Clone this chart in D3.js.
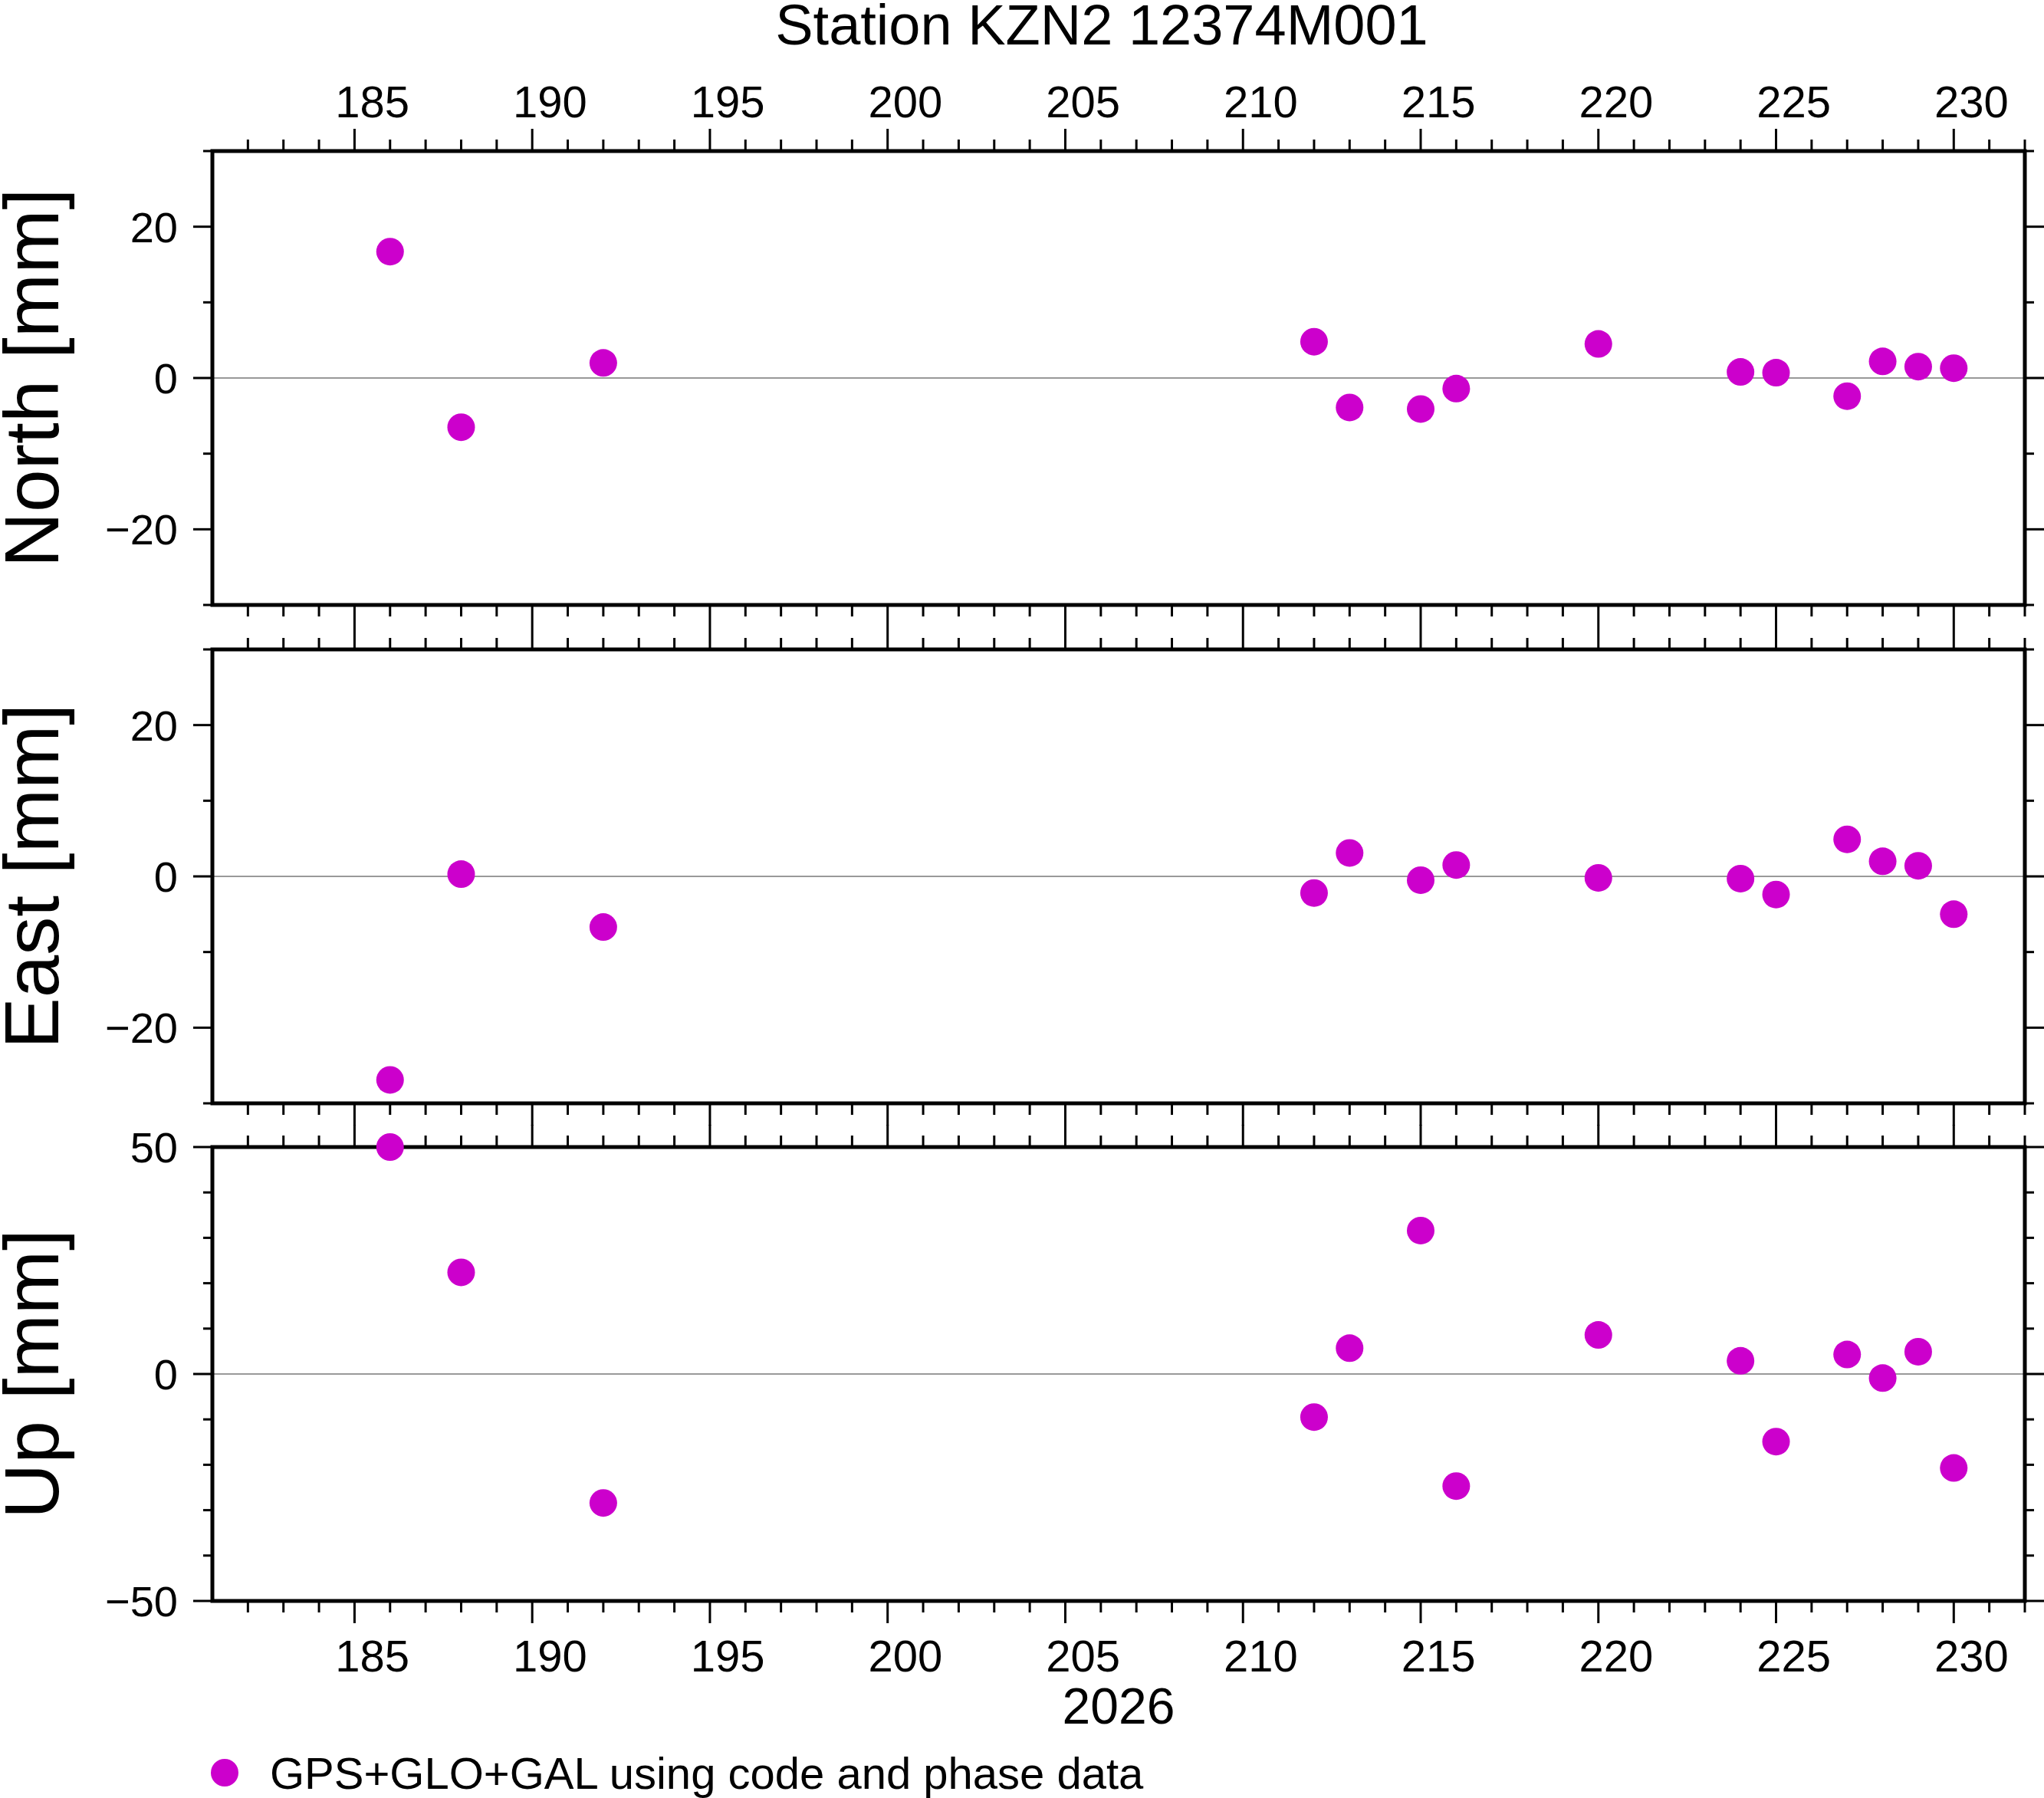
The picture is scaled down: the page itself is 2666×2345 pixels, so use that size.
<!DOCTYPE html>
<html><head><meta charset="utf-8">
<script src="https://cdn.jsdelivr.net/npm/d3@7"></script>
<style>body{margin:0;background:#fff}svg{display:block;font-family:"Liberation Sans",Arial,sans-serif}</style>
</head><body>
<script>
const days = [186,188,192,212,213,215,216,220,224,225,227,228,229,230];
const north = [16.7,-6.5,2.0,4.8,-3.9,-4.1,-1.4,4.5,0.8,0.7,-2.4,2.2,1.5,1.3];
const east = [-26.9,0.3,-6.7,-2.2,3.1,-0.5,1.5,-0.2,-0.3,-2.4,4.9,2.0,1.4,-5.0];
const up = [50,22.4,-28.4,-9.5,5.7,31.6,-24.7,8.6,2.9,-14.9,4.3,-0.9,4.9,-20.7];
const xTicks = [185,190,195,200,205,210,215,220,225,230];
const panels = [
  {label:"North [mm]", vals:north, dom:[-30,30], major:[-20,0,20], minor:10},
  {label:"East [mm]", vals:east, dom:[-30,30], major:[-20,0,20], minor:10},
  {label:"Up [mm]", vals:up, dom:[-50,50], major:[-50,0,50], minor:10}
];
const W=2666,H=2345,L=277,R=2641;
const tops=[197,847,1496], ph=592;
const svg=d3.select("body").append("svg").attr("width",W).attr("height",H);
const x=d3.scaleLinear().domain([181,232]).range([L,R]);
const minorX=d3.range(182,233,1);
const col="#cc00cc";
svg.append("text").attr("x",1437).attr("y",58).attr("text-anchor","middle").attr("font-size",74).text("Station KZN2 12374M001");
panels.forEach((p,i)=>{
  const t=tops[i], b=t+ph;
  const y=d3.scaleLinear().domain(p.dom).range([b,t]);
  const g=svg.append("g");
  [[t,-1],[b,1]].forEach(([yy,dir])=>{
    minorX.forEach(d=>{const maj=d%5===0;g.append("line").attr("x1",x(d)).attr("x2",x(d)).attr("y1",yy).attr("y2",yy+dir*(maj?29:15)).attr("stroke","#000").attr("stroke-width",3);});
  });
  const minorY=d3.range(p.dom[0],p.dom[1]+0.001,p.minor);
  [[L,-1],[R,1]].forEach(([xx,dir])=>{
    minorY.forEach(v=>{const maj=p.major.includes(v);g.append("line").attr("x1",xx).attr("x2",xx+dir*(maj?25:12)).attr("y1",y(v)).attr("y2",y(v)).attr("stroke","#000").attr("stroke-width",3);});
  });
  p.major.forEach(v=>g.append("text").attr("x",232).attr("y",y(v)).attr("dy","0.36em").attr("text-anchor","end").attr("font-size",56).text(v<0?"\u2212"+(-v):v));
  g.append("line").attr("x1",L).attr("x2",R).attr("y1",y(0)).attr("y2",y(0)).attr("stroke","#777").attr("stroke-width",1.5);
  g.append("rect").attr("x",L).attr("y",t).attr("width",R-L).attr("height",ph).attr("fill","none").attr("stroke","#000").attr("stroke-width",5);
  g.selectAll("circle").data(days).join("circle").attr("cx",d=>x(d)).attr("cy",(d,j)=>y(p.vals[j])).attr("r",18).attr("fill",col);
  g.append("text").attr("transform",`translate(76,${(t+b)/2}) rotate(-90)`).attr("text-anchor","middle").attr("font-size",100).text(p.label);
});
xTicks.forEach(d=>{
  svg.append("text").attr("x",x(d+0.5)).attr("y",153).attr("text-anchor","middle").attr("font-size",58).text(d);
  svg.append("text").attr("x",x(d+0.5)).attr("y",2180).attr("text-anchor","middle").attr("font-size",58).text(d);
});
svg.append("text").attr("x",1459).attr("y",2248).attr("text-anchor","middle").attr("font-size",66).text("2026");
svg.append("circle").attr("cx",293).attr("cy",2312).attr("r",18).attr("fill",col);
svg.append("text").attr("x",352).attr("y",2333).attr("font-size",58).text("GPS+GLO+GAL using code and phase data");
</script>
</body></html>
